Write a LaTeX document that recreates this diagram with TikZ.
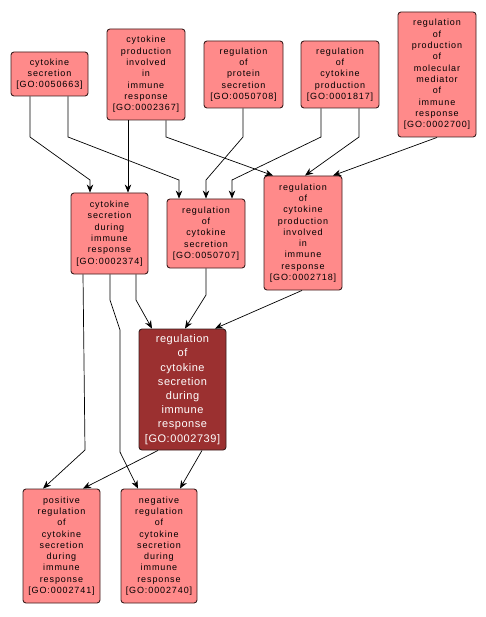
\documentclass[tikz,border=0pt]{standalone}
\usepackage{fontspec}
\setmainfont{Liberation Sans}
\newfontfamily\smallgo[LetterSpace=10]{Liberation Sans}
\newfontfamily\biggo[LetterSpace=5]{Liberation Sans}
\usetikzlibrary{arrows.meta}
\definecolor{golight}{RGB}{255,138,138}
\definecolor{godark}{RGB}{155,48,48}
\definecolor{goborder}{RGB}{60,30,30}
\tikzset{
  goterm/.style={draw=goborder, line width=0.9pt, fill=golight, rounded corners=3pt,
    align=center, inner sep=0pt, font=\smallgo\fontsize{9}{11.3}\selectfont, text=black},
  gofocus/.style={goterm, fill=godark, text=white, font=\biggo\fontsize{11}{14.2}\selectfont},
  edge/.style={draw=black, line width=0.7pt, -{Stealth[length=8pt,width=6.5pt]}}
}
\begin{document}
\begin{tikzpicture}[x=1pt,y=-1pt]
\useasboundingbox (0,0) rectangle (486,617);
\fill[white] (0,0) rectangle (486,617);
% nodes
\node[goterm, minimum width=77pt, minimum height=44pt] (A) at (49.5,74) {cytokine\\secretion\\{[GO:0050663]}};
\node[goterm, minimum width=78pt, minimum height=91pt] (B) at (146,74.5) {cytokine\\production\\involved\\in\\immune\\response\\{[GO:0002367]}};
\node[goterm, minimum width=79pt, minimum height=67pt] (C) at (243.5,74.5) {regulation\\of\\protein\\secretion\\{[GO:0050708]}};
\node[goterm, minimum width=78pt, minimum height=67pt] (D) at (340,74.5) {regulation\\of\\cytokine\\production\\{[GO:0001817]}};
\node[goterm, minimum width=78pt, minimum height=125pt] (E) at (437,74.5) {regulation\\of\\production\\of\\molecular\\mediator\\of\\immune\\response\\{[GO:0002700]}};
\node[goterm, minimum width=77pt, minimum height=81pt] (F) at (109.5,233.5) {cytokine\\secretion\\during\\immune\\response\\{[GO:0002374]}};
\node[goterm, minimum width=78pt, minimum height=69pt] (G) at (206,233.5) {regulation\\of\\cytokine\\secretion\\{[GO:0050707]}};
\node[goterm, minimum width=78pt, minimum height=114pt] (H) at (303,233) {regulation\\of\\cytokine\\production\\involved\\in\\immune\\response\\{[GO:0002718]}};
\node[gofocus, minimum width=87pt, minimum height=121pt] (I) at (182.5,389.5) {regulation\\of\\cytokine\\secretion\\during\\immune\\response\\{[GO:0002739]}};
\node[goterm, minimum width=77pt, minimum height=114pt] (J) at (61.5,546) {positive\\regulation\\of\\cytokine\\secretion\\during\\immune\\response\\{[GO:0002741]}};
\node[goterm, minimum width=76pt, minimum height=114pt] (K) at (159,546) {negative\\regulation\\of\\cytokine\\secretion\\during\\immune\\response\\{[GO:0002740]}};
% edges
\draw[edge] ([xshift=-19.5pt]A.south) -- (30,137) -- (90,180) -- ([xshift=-19.5pt]F.north);
\draw[edge] ([xshift=18.5pt]A.south) -- (68,137) -- (179,180) -- ([xshift=-27pt]G.north);
\draw[edge] ([xshift=-18pt]B.south) -- ([xshift=18.5pt]F.north);
\draw[edge] ([xshift=20pt]B.south) -- (166,137) -- ([xshift=-30pt]H.north);
\draw[edge] ([xshift=-0.5pt]C.south) -- (243,137) -- (206,180) -- (G.north);
\draw[edge] ([xshift=-19pt]D.south) -- (321,137) -- (232,180) -- ([xshift=26pt]G.north);
\draw[edge] ([xshift=19pt]D.south) -- (359,137) -- ([xshift=2pt]H.north);
\draw[edge] (E.south) -- ([xshift=30pt]H.north);
\draw[edge] ([xshift=26.5pt]F.south) -- (136,300) -- ([xshift=-30.5pt]I.north);
\draw[edge] ([xshift=-26.5pt]F.south) -- (85,450) -- ([xshift=-18.5pt]J.north);
\draw[edge] ([xshift=0.5pt]F.south) -- (110,300) -- (120,330) -- (120,452) -- ([xshift=-21pt]K.north);
\draw[edge] (G.south) -- (206,295) -- ([xshift=2.5pt]I.north);
\draw[edge] ([xshift=-1pt]H.south) -- ([xshift=32.5pt]I.north);
\draw[edge] ([xshift=-24.5pt]I.south) -- ([xshift=21.5pt]J.north);
\draw[edge] ([xshift=19.5pt]I.south) -- ([xshift=21pt]K.north);
\end{tikzpicture}
\end{document}
